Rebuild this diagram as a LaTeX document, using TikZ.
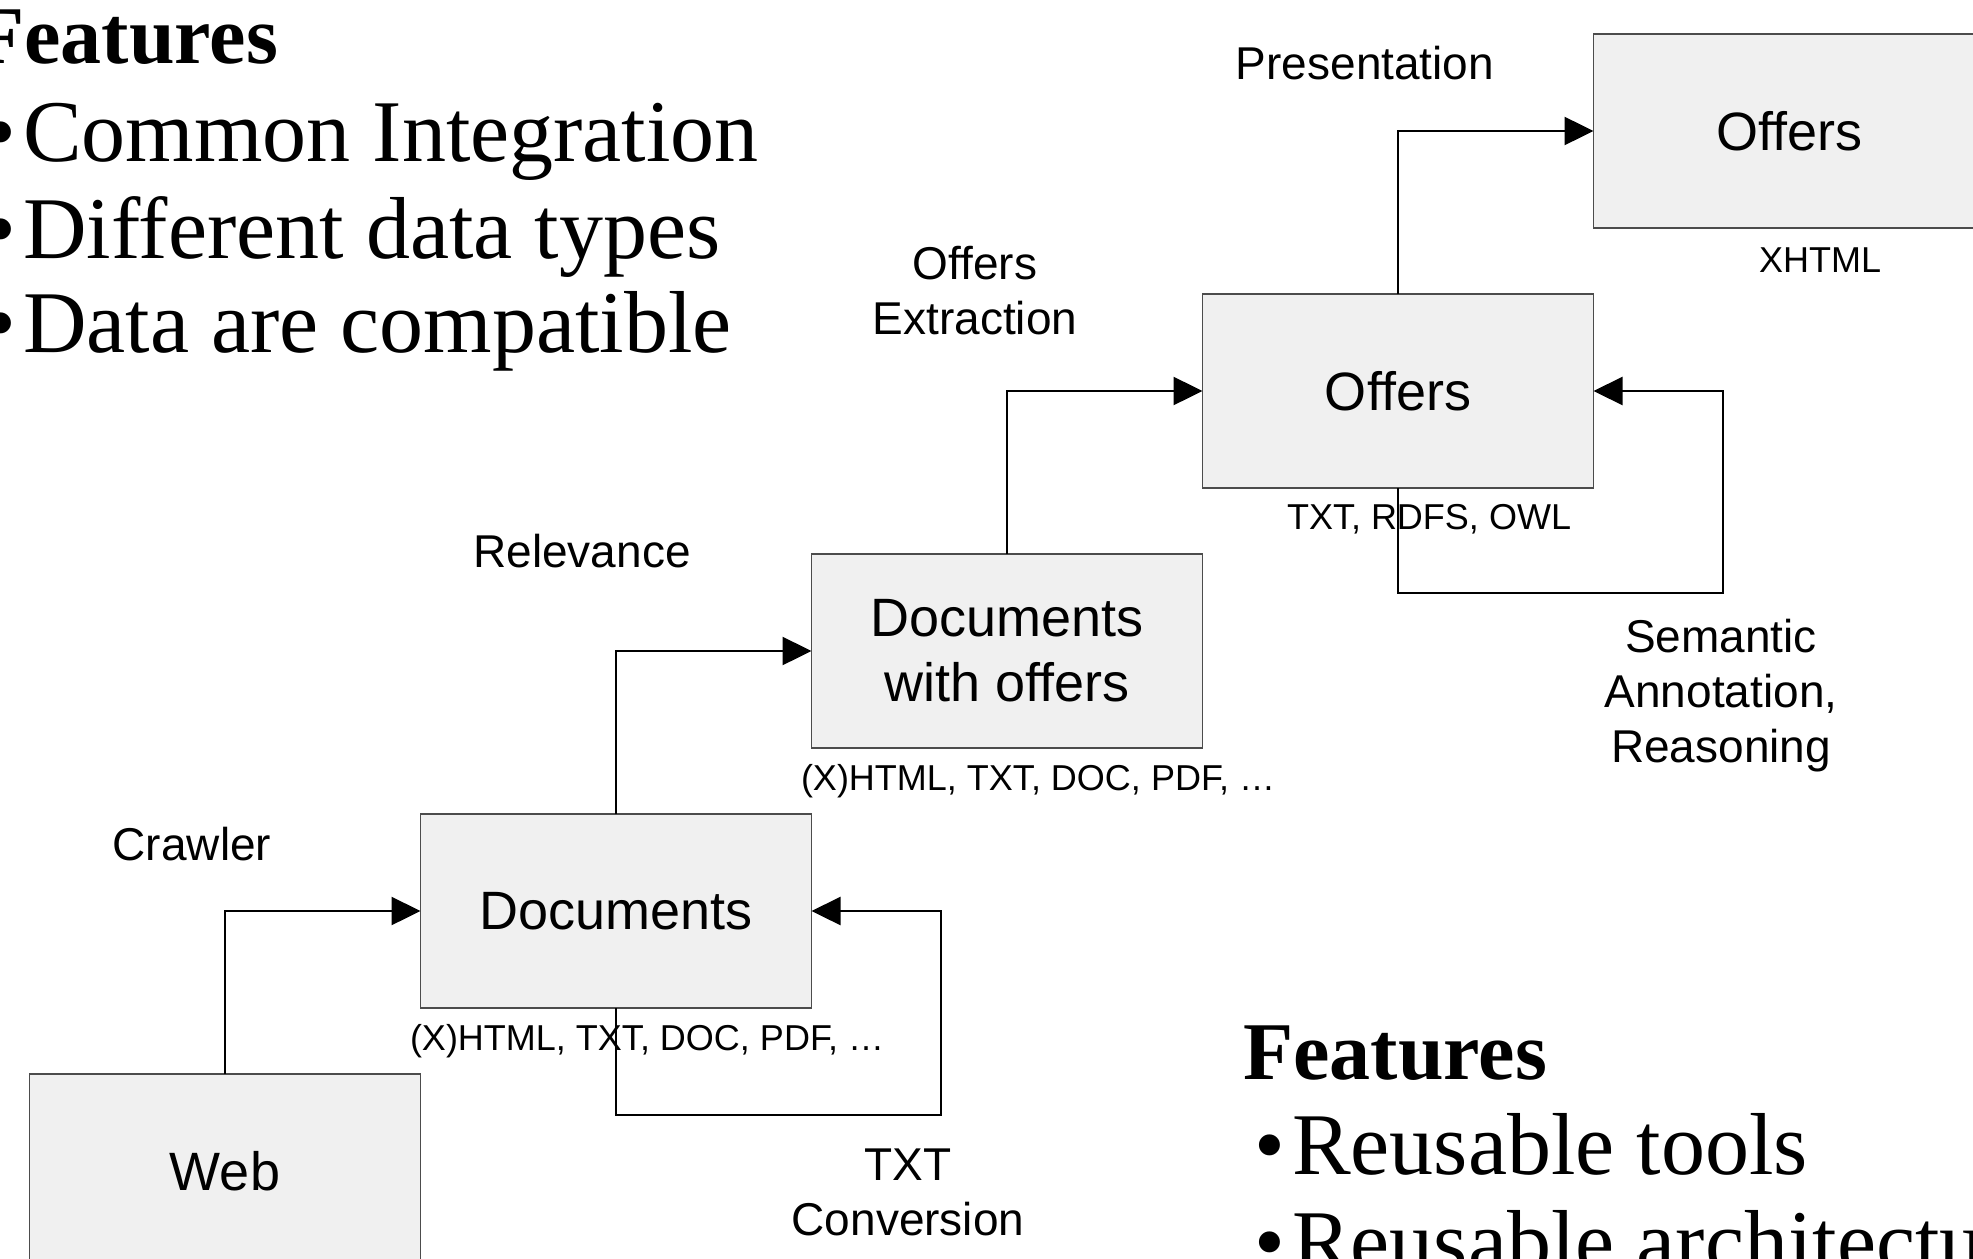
\documentclass[tikz,border=0pt]{standalone}
\usepackage{fontspec}
\setmainfont{Liberation Serif}
\setsansfont{Liberation Sans}
\usetikzlibrary{positioning,arrows.meta}

\begin{document}
\begin{tikzpicture}[x=0.5pt,y=-0.5pt,
	stage/.style={rectangle,draw=black!70,fill=black!6,line width=0.6pt,
		minimum width=195.5pt,minimum height=97pt,inner sep=0,outer sep=0,align=center,
		font=\sffamily\fontsize{27}{32.5}\selectfont},
	oplabel/.style={align=center,font=\sffamily\fontsize{23}{27.5}\selectfont},
	fmt/.style={font=\sffamily\fontsize{18}{21}\selectfont},
	flow/.style={line width=1.2pt,-{Triangle[length=14.5pt,width=14pt]}},
	heading/.style={anchor=base west,inner sep=0,font=\bfseries\fontsize{41}{49}\selectfont},
	itemtxt/.style={anchor=base west,inner sep=0,font=\fontsize{44}{53}\selectfont}]
\useasboundingbox (0,0) rectangle (1973,1258);

% the five stages, each one step up and to the right
\node[stage] (web) at (225,1171) {Web};
\node[stage,above right=33pt and 0pt of web] (docs) {Documents};
\node[stage,above right=33pt and 0pt of docs] (docsoff) {Documents\\with offers};
\node[stage,above right=33pt and 0pt of docsoff] (offers) {Offers};
\node[stage,above right=33pt and 0pt of offers] (present) {Offers};

% data formats under the stages
\node[fmt] (docsfmt) at ([shift={(31,33)}]docs.south) {(X)HTML, TXT, DOC, PDF, …};
\node[fmt] (docsofffmt) at ([shift={(31,33)}]docsoff.south) {(X)HTML, TXT, DOC, PDF, …};
\node[fmt] (offersfmt) at ([shift={(31,31)}]offers.south) {TXT, RDFS, OWL};
\node[fmt] (presentfmt) at ([shift={(31,32)}]present.south) {XHTML};

% processing steps
\draw[flow] (web.north) |- (docs.west);
\draw[flow] (docs.north) |- (docsoff.west);
\draw[flow] (docsoff.north) |- (offers.west);
\draw[flow] (offers.north) |- (present.west);
\coordinate (conv) at (941,1115);
\draw[flow] (docs.south) |- (conv) |- (docs.east);
\coordinate (annot) at (1723,593);
\draw[flow] (offers.south) |- (annot) |- (offers.east);

\node[oplabel] (crawl) at (192,844) {Crawler};
\node[oplabel] (relev) at (582,551) {Relevance};
\node[oplabel] (extract) at (975,291) {Offers\\Extraction};
\node[oplabel] (pres) at (1365,63) {Presentation};
\node[oplabel] (conversion) at (908,1192) {TXT\\Conversion};
\node[oplabel] (annotation) at (1721,696) {Semantic\\Annotation,\\Reasoning};

% features
\node[heading] (feat1) at (-26,63) {Features};
\node[itemtxt] (integ) at (-15,161) {•\hspace{3.5pt}Common Integration};
\node[itemtxt] (types) at (-15,258) {•\hspace{3.5pt}Different data types};
\node[itemtxt] (compat) at (-15,352) {•\hspace{3.5pt}Data are compatible};
\node[heading] (feat2) at (1243,1079) {Features};
\node[itemtxt] (tools) at (1254,1174) {•\hspace{3.5pt}Reusable tools};
\node[itemtxt] (arch) at (1254,1271) {•\hspace{3.5pt}Reusable architecture};
\end{tikzpicture}
\end{document}
